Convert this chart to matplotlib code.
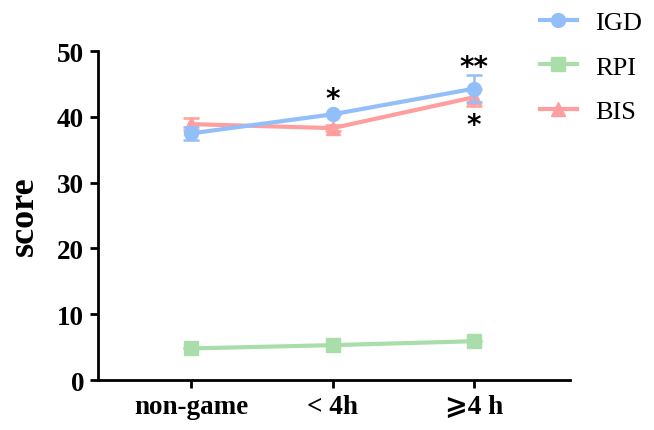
import numpy as np
import matplotlib.pyplot as plt
from matplotlib.lines import Line2D

# ------------------------------------------------------| Data
groups = ['non-game', '< 4h', '\u2a7e4 h']
igd = [37.5, 40.4, 44.3]
igd_err = [1.0, 0.0, 2.0]
rpi = [4.8, 5.3, 5.9]
rpi_err = [0.0, 0.0, 0.0]
bis = [38.9, 38.3, 43.0]
bis_err = [0.9, 0.5, 1.3]

c_igd = '#92bffa'
c_rpi = '#a9dda9'
c_bis = '#ff9e9e'

plt.rcParams['font.family'] = ['Liberation Serif', 'DejaVu Sans', 'Noto Sans CJK SC']

fig = plt.figure(figsize=(6.54, 4.31), dpi=100)
ax = fig.add_axes([0.150, 0.116, 0.722, 0.763])

x = np.arange(len(groups))
style = dict(markersize=10, lw=3, capsize=6, capthick=1.8, elinewidth=1.8)
ax.errorbar(x, rpi, yerr=rpi_err, color=c_rpi, marker='s', zorder=2, **style)
ax.errorbar(x, bis, yerr=bis_err, color=c_bis, marker='^', zorder=3, **style)
ax.errorbar(x, igd, yerr=igd_err, color=c_igd, marker='o', zorder=4, **style)

# significance marks
star_font = dict(fontsize=20, ha='center', va='center', family='DejaVu Sans',
                 fontweight='bold')
ax.text(1, 42.8, '*', **star_font)
ax.text(2, 47.6, '**', **star_font)
ax.text(2, 38.7, '*', **star_font)

ax.set_xlim(-0.66, 2.68)
ax.set_ylim(0, 50)
ax.set_yticks([0, 10, 20, 30, 40, 50])
ax.set_xticks(x)
ax.set_xticklabels(groups)
for lab in ax.get_xticklabels() + ax.get_yticklabels():
    lab.set_fontweight('bold')
    lab.set_fontsize(19.5)
ax.set_ylabel('score', fontsize=26, fontweight='bold', labelpad=12)

ax.spines['top'].set_visible(False)
ax.spines['right'].set_visible(False)
ax.spines['left'].set_linewidth(2)
ax.spines['bottom'].set_linewidth(2)
ax.tick_params(width=2, length=6, pad=4)

handles = [Line2D([], [], color=c_igd, marker='o', lw=3, markersize=10),
           Line2D([], [], color=c_rpi, marker='s', lw=3, markersize=10),
           Line2D([], [], color=c_bis, marker='^', lw=3, markersize=10)]
fig.legend(handles, ['IGD', 'RPI', 'BIS'], loc='upper left',
           bbox_to_anchor=(0.805, 1.004), frameon=False, fontsize=19, borderpad=0,
           handlelength=1.4, labelspacing=0.8, handletextpad=0.7)

fig.savefig('out.png', dpi=100)
